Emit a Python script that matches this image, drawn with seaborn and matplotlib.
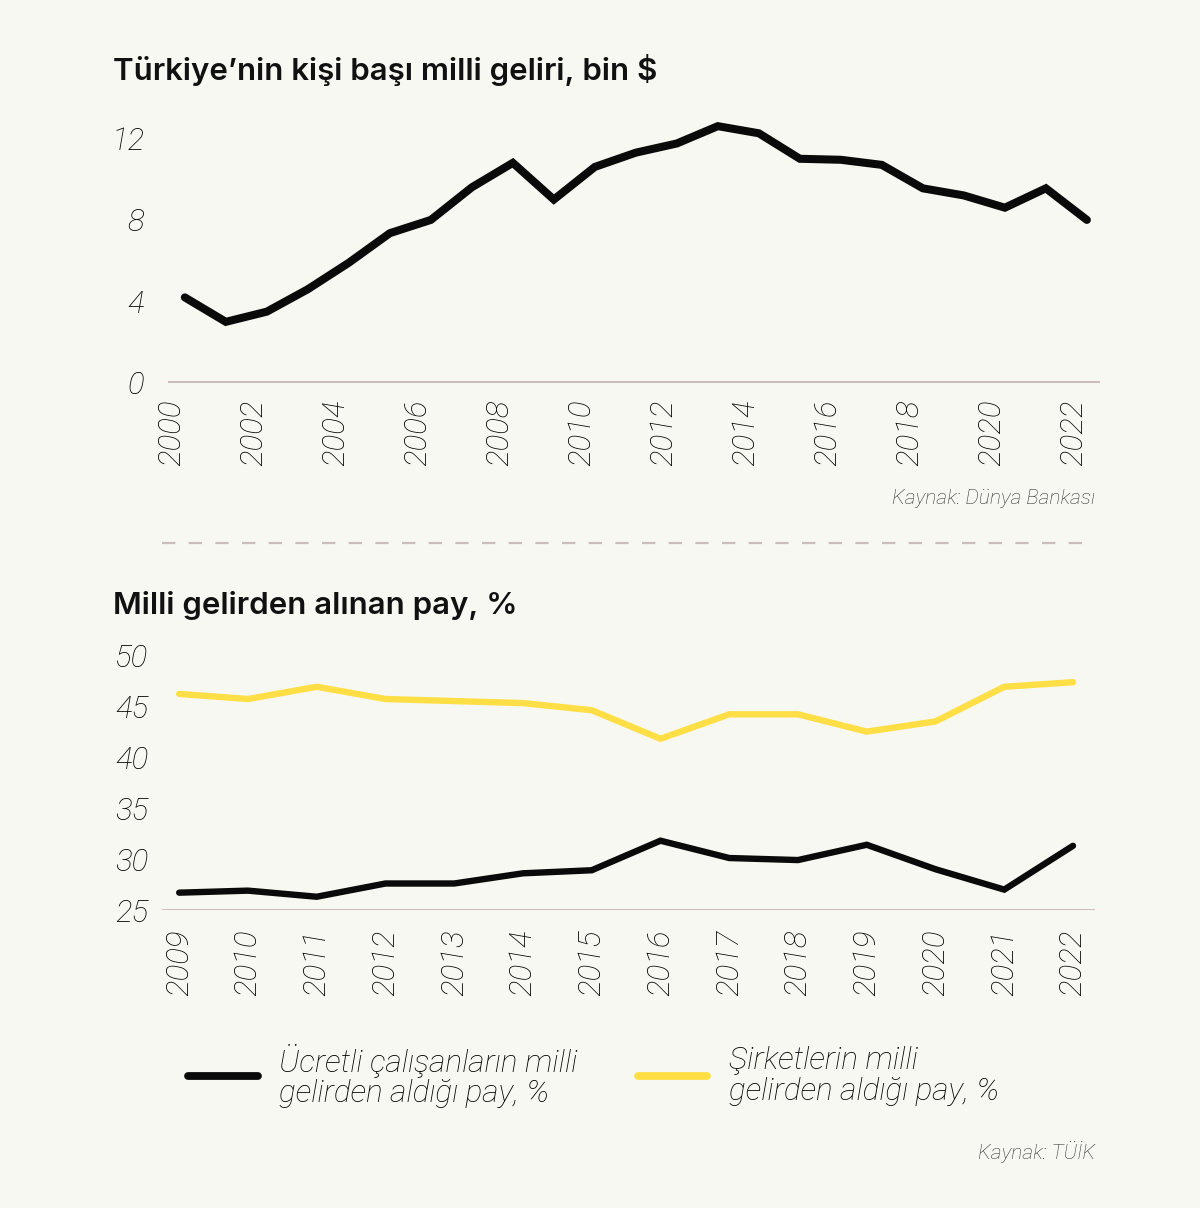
import matplotlib
matplotlib.use("Agg")
import matplotlib.pyplot as plt
import matplotlib.transforms as mtransforms
from matplotlib.lines import Line2D
import seaborn as sns
import pandas as pd

# ---- data ----
years_top = list(range(2000, 2023))
gni_per_capita = [4.2, 3.0, 3.5, 4.6, 5.9, 7.35, 8.0, 9.6, 10.8, 9.0, 10.6, 11.3,
                  11.75, 12.6, 12.25, 11.0, 10.95, 10.7, 9.55, 9.2, 8.6, 9.55, 8.0]
top_ticks = list(range(2000, 2023, 2))
top_yticks = [0, 4, 8, 12]

years_bot = list(range(2009, 2023))
wage_share = [26.7, 26.9, 26.3, 27.6, 27.6, 28.6, 28.9, 31.8, 30.1, 29.9, 31.4, 29.0, 27.0, 31.3]
corp_share = [46.2, 45.7, 46.9, 45.7, 45.5, 45.3, 44.6, 41.8, 44.2, 44.2, 42.5, 43.5, 46.9, 47.35]
bot_yticks = [25, 30, 35, 40, 45, 50]

title_top = "Türkiye’nin kişi başı milli geliri, bin $"
title_bot = "Milli gelirden alınan pay, %"
label_wage = "Ücretli çalışanların milli\ngelirden aldığı pay, %"
label_corp = "Şirketlerin milli\ngelirden aldığı pay, %"
source_top = "Kaynak: Dünya Bankası"
source_bot = "Kaynak: TÜİK"

BG = "#f8f8f3"
BLACK = "#0a0a0a"
YELLOW = "#ffdf45"
BASE = "#cbbcbc"
TICKFONT = "Roboto"
TICKW = "light"
TXT = "#000000"

sns.set_theme(style="white")
plt.rcParams["font.family"] = ["Roboto", "DejaVu Sans"]

W, H = 1200, 1208
fig = plt.figure(figsize=(W / 100, H / 100), dpi=100, facecolor=BG)


def px_axes(left, right, bottom, top):
    return fig.add_axes([left / W, 1 - bottom / H, (right - left) / W, (bottom - top) / H])


def style_axes(ax):
    ax.set_facecolor(BG)
    for s in ax.spines.values():
        s.set_visible(False)
    ax.tick_params(axis="both", length=0)
    ax.set_xlabel("")
    ax.set_ylabel("")


tick_kw = dict(fontsize=22.5, fontstyle="italic", fontweight=TICKW, family=TICKFONT, color=TXT)

# ---- top chart ----
ax1 = px_axes(168, 1100, 383, 118)
df1 = pd.DataFrame({"year": years_top, "value": gni_per_capita})
ax1.axhline(0, color=BASE, lw=2.8, zorder=1)
sns.lineplot(data=df1, x="year", y="value", ax=ax1, color=BLACK, linewidth=5.8, zorder=3)
for ln in ax1.lines[1:]:
    ln.set_solid_capstyle("round")
    ln.set_solid_joinstyle("miter")
ax1.set_xlim(1999.59, 2022.32)
ax1.set_ylim(0, 13)
style_axes(ax1)
ax1.set_xticks(top_ticks)
ax1.set_xticklabels([str(t) for t in top_ticks], rotation=90, **tick_kw)
ax1.set_yticks(top_yticks)
ax1.set_yticklabels([str(t) for t in top_yticks], **tick_kw)
ax1.tick_params(axis="y", pad=17)
ax1.tick_params(axis="x", pad=12)
off = mtransforms.ScaledTranslation(-13 / 100, 0, fig.dpi_scale_trans)
for lab in ax1.get_xticklabels():
    lab.set_transform(lab.get_transform() + off)
ax1.grid(False)

fig.text(113 / W, 1 - 70 / H, title_top, fontsize=22.5, fontweight="semibold",
         family="Inter", color="#111111", va="center", ha="left")
fig.text(1095 / W, 1 - 498 / H, source_top, fontsize=15, fontstyle="italic",
         fontweight=TICKW, family=TICKFONT, color="#333333", va="center", ha="right")

# separator
fig.add_artist(Line2D([162 / W, 1095 / W], [1 - 543 / H, 1 - 543 / H],
                      transform=fig.transFigure, color=BASE, lw=1.6,
                      dashes=(6, 6)))

# ---- bottom chart ----
ax2 = px_axes(162, 1095, 910, 645)
df2 = pd.DataFrame({
    "year": years_bot * 2,
    "value": wage_share + corp_share,
    "series": [label_wage] * len(years_bot) + [label_corp] * len(years_bot),
})
ax2.axhline(25, color=BASE, lw=1.4, zorder=1)
sns.lineplot(data=df2, x="year", y="value", hue="series", ax=ax2,
             palette={label_wage: BLACK, label_corp: YELLOW}, linewidth=4.6,
             legend=False, zorder=3)
for ln in ax2.lines[1:]:
    ln.set_solid_capstyle("round")
    ln.set_solid_joinstyle("miter")
ax2.set_xlim(2008.75, 2022.32)
ax2.set_ylim(25, 51)
style_axes(ax2)
ax2.set_xticks(years_bot)
ax2.set_xticklabels([str(t) for t in years_bot], rotation=90, **tick_kw)
ax2.set_yticks(bot_yticks)
ax2.set_yticklabels([str(t) for t in bot_yticks], **tick_kw)
ax2.tick_params(axis="y", pad=10)
ax2.tick_params(axis="x", pad=14)
ax2.grid(False)

fig.text(113 / W, 1 - 605 / H, title_bot, fontsize=22.5, fontweight="semibold",
         family="Inter", color="#111111", va="center", ha="left")

handles = [Line2D([], [], color=BLACK, lw=5.6, solid_capstyle="round"),
           Line2D([], [], color=YELLOW, lw=5.6, solid_capstyle="round")]
leg = fig.legend(handles, [label_wage, label_corp], loc="center left",
                 bbox_to_anchor=(160 / W, 1 - 1076 / H), ncol=2, frameon=False,
                 handlelength=2.2, handletextpad=0.69, columnspacing=1.9,
                 prop={"family": TICKFONT, "style": "italic", "weight": TICKW, "size": 22.7})
for t in leg.get_texts():
    t.set_color(TXT)
    t.set_linespacing(1.05)

fig.text(1095 / W, 1 - 1152 / H, source_bot, fontsize=15, fontstyle="italic",
         fontweight=TICKW, family=TICKFONT, color="#333333", va="center", ha="right")

fig.savefig("out.png", dpi=100, facecolor=BG)
